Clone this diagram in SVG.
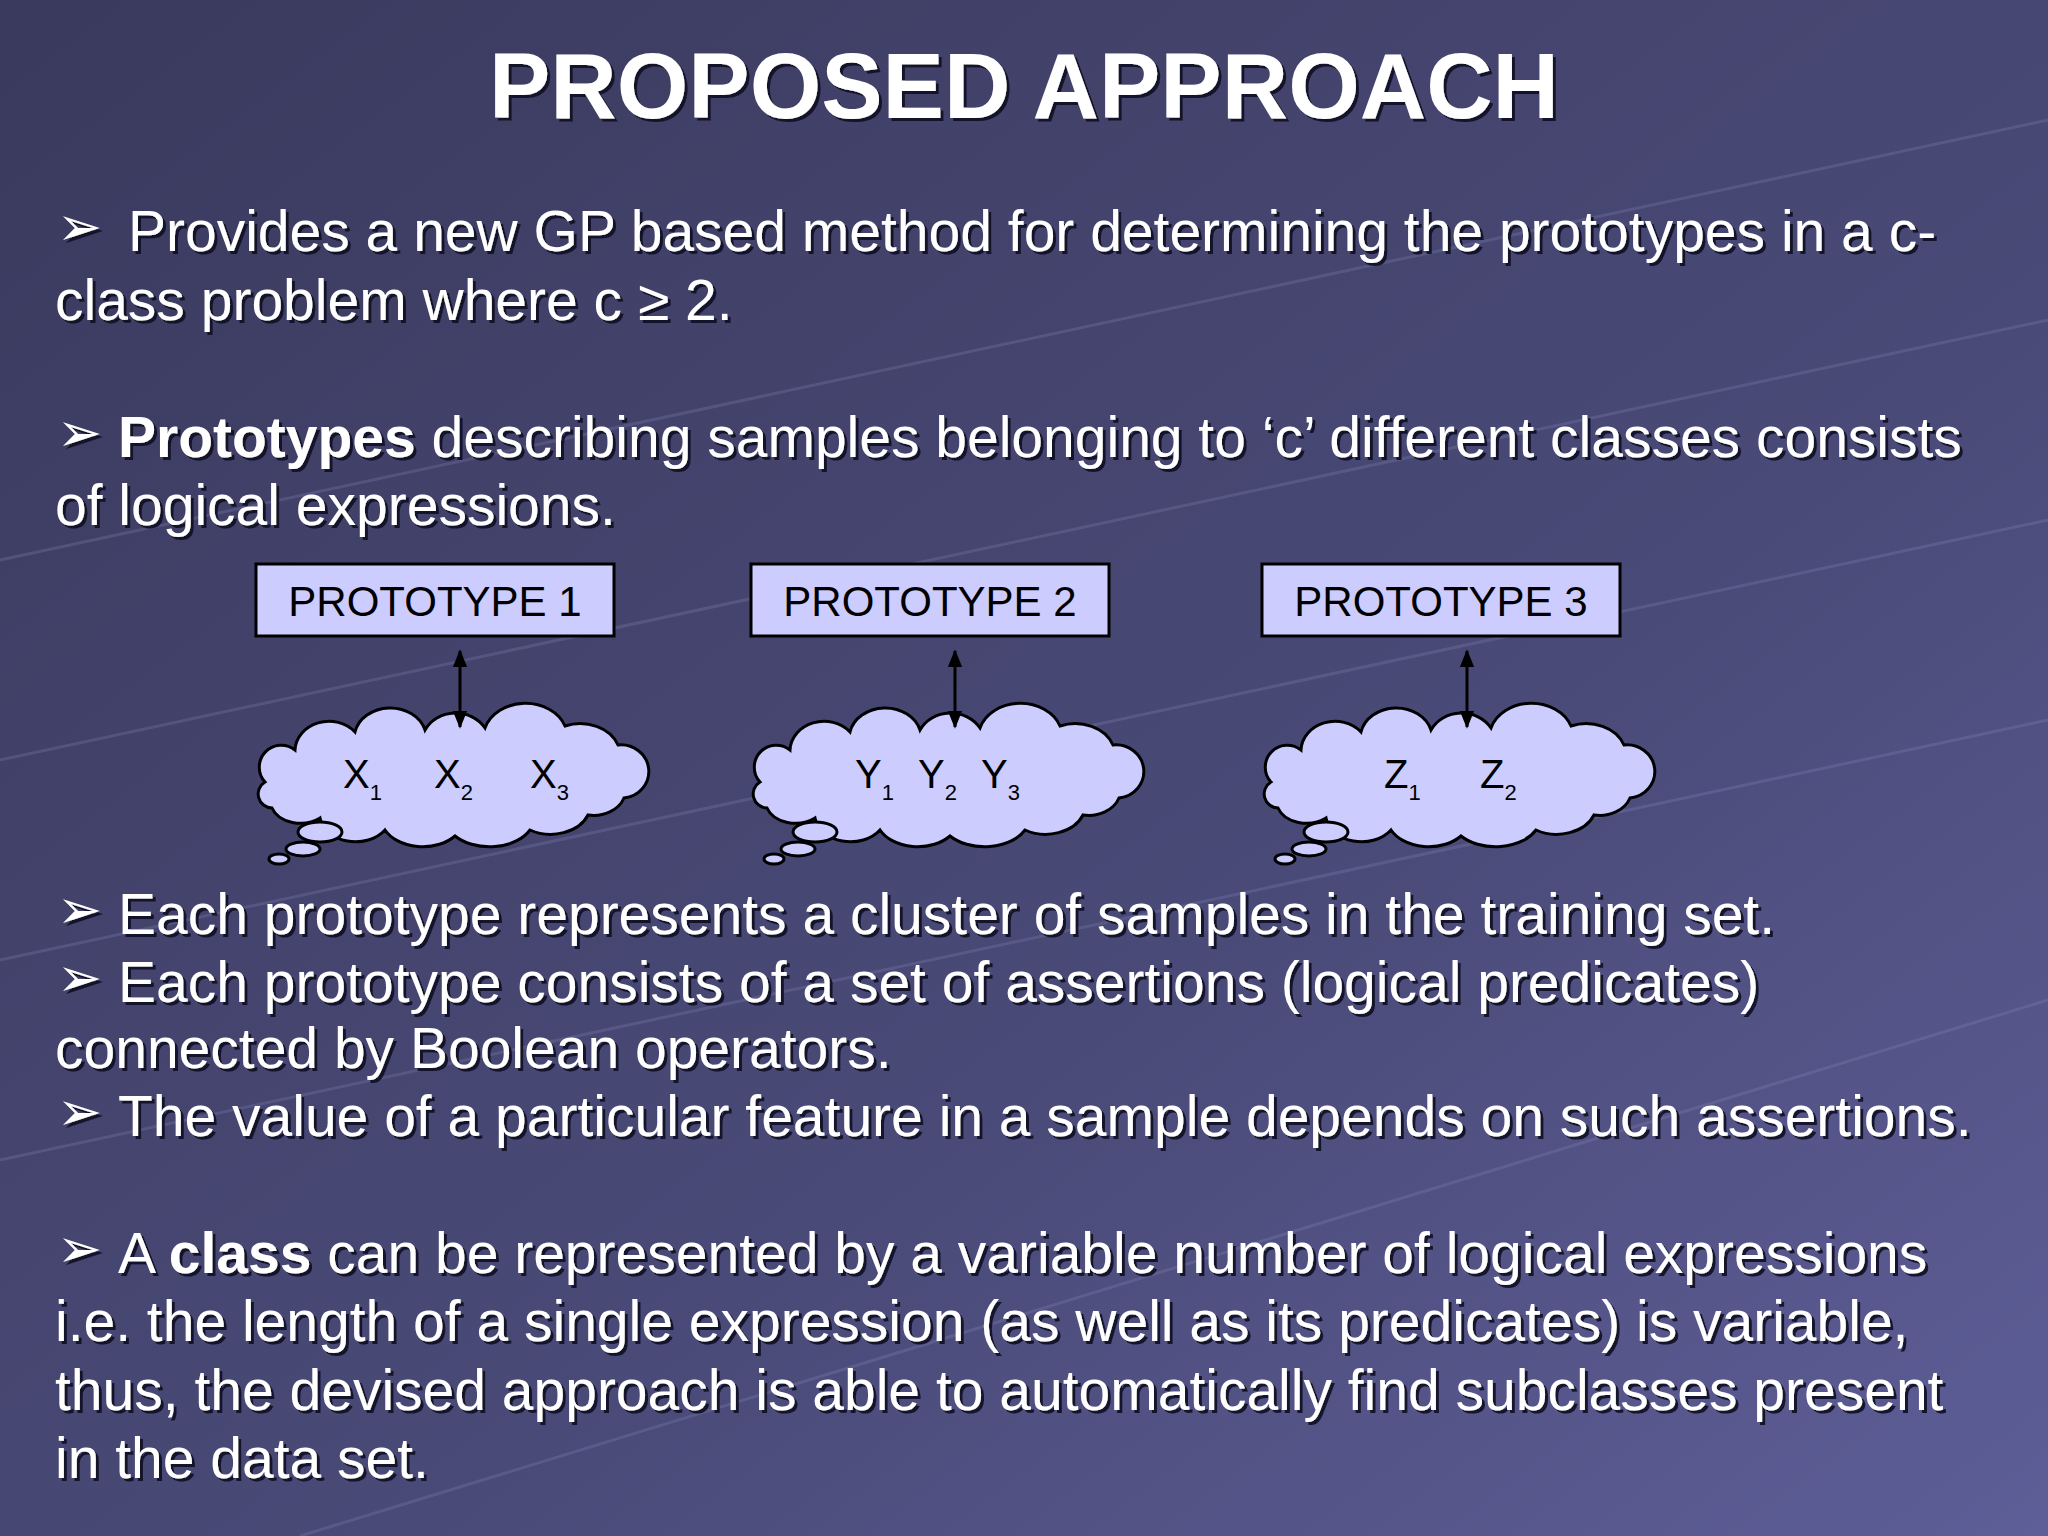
<svg xmlns="http://www.w3.org/2000/svg" width="2048" height="1536" viewBox="0 0 2048 1536">
<defs>
<linearGradient id="bg" x1="0" y1="0" x2="1" y2="1">
<stop offset="0" stop-color="#3a3a5e"/>
<stop offset="0.6" stop-color="#4a4a78"/>
<stop offset="1" stop-color="#5e5e98"/>
</linearGradient>
<filter id="sh" x="-5%" y="-20%" width="110%" height="140%">
<feDropShadow dx="3" dy="3" stdDeviation="0.5" flood-color="#111122" flood-opacity="0.9"/>
</filter>
<marker id="ah" viewBox="0 0 10 10" refX="9" refY="5" markerWidth="6" markerHeight="6" orient="auto-start-reverse">
<path d="M0,1 L10,5 L0,9 z" fill="#000"/>
</marker>
<g id="cloud">
<path d="M265,782 A22,22 0 0 1 295,750 A34,30 0 0 1 355,732 A36,30 0 0 1 425,730 A34,30 0 0 1 485,728 A42,34 0 0 1 565,726 A40,32 0 0 1 618,745 A24,23 0 0 1 624,798 A32,26 0 0 1 588,815 A40,30 0 0 1 530,830 A45,30 0 0 1 455,836 A42,30 0 0 1 385,830 A36,28 0 0 1 320,818 A30,22 0 0 1 272,808 A14,14 0 0 1 265,782 Z" fill="#ccccff" stroke="#000" stroke-width="3"/>
<ellipse cx="320" cy="832" rx="22" ry="10" fill="#ccccff" stroke="#000" stroke-width="3"/>
<ellipse cx="303" cy="849" rx="17" ry="7" fill="#ccccff" stroke="#000" stroke-width="3"/>
<ellipse cx="279" cy="859" rx="10" ry="5" fill="#ccccff" stroke="#000" stroke-width="3"/>
</g>
</defs>
<style>
.t{font-family:"Liberation Sans",Arial,sans-serif;font-size:57px;fill:#fff}
.b{font-family:"DejaVu Sans",sans-serif;font-size:54px;fill:#fff}
.box{fill:#ccccff;stroke:#000;stroke-width:3}
.bl{font-family:"Liberation Sans",Arial,sans-serif;font-size:42px;fill:#000;text-anchor:middle}
.v{font-family:"Liberation Sans",Arial,sans-serif;font-size:40px;fill:#000}
.s{font-size:22px}
.ar{stroke:#000;stroke-width:3;marker-start:url(#ah);marker-end:url(#ah)}
</style>
<rect width="2048" height="1536" fill="url(#bg)"/>
<g stroke="#8a8ac0" stroke-opacity="0.25" stroke-width="3" fill="none">
<path d="M0,560 L2048,120"/><path d="M0,760 L2048,320"/><path d="M0,960 L2048,520"/><path d="M0,1160 L2048,720"/><path d="M300,1536 L2048,1000"/>
</g>
<g id="title" filter="url(#sh)">
<text x="1024" y="118" text-anchor="middle" font-family="Liberation Sans,Arial,sans-serif" font-weight="bold" font-size="92" fill="#fff">PROPOSED APPROACH</text>
</g>
<g id="body" filter="url(#sh)">
<text class="b" x="57" y="245">➢</text>
<text class="t" x="128" y="251">Provides a new GP based method for determining the prototypes in a c-</text>
<text class="t" x="55" y="320">class problem where c ≥ 2.</text>
<text class="b" x="57" y="451">➢</text>
<text class="t" x="118" y="457"><tspan font-weight="bold">Prototypes</tspan> describing samples belonging to ‘c’ different classes consists</text>
<text class="t" x="55" y="525">of logical expressions.</text>
<text class="b" x="57" y="928">➢</text>
<text class="t" x="118" y="934">Each prototype represents a cluster of samples in the training set.</text>
<text class="b" x="57" y="996">➢</text>
<text class="t" x="118" y="1002">Each prototype consists of a set of assertions (logical predicates)</text>
<text class="t" x="55" y="1068">connected by Boolean operators.</text>
<text class="b" x="57" y="1130">➢</text>
<text class="t" x="118" y="1136">The value of a particular feature in a sample depends on such assertions.</text>
<text class="b" x="57" y="1267">➢</text>
<text class="t" x="118" y="1273">A <tspan font-weight="bold">class</tspan> can be represented by a variable number of logical expressions</text>
<text class="t" x="55" y="1341">i.e. the length of a single expression (as well as its predicates) is variable,</text>
<text class="t" x="55" y="1410">thus, the devised approach is able to automatically find subclasses present</text>
<text class="t" x="55" y="1478">in the data set.</text>
</g>
<g id="proto1"><rect class="box" x="256" y="564" width="358" height="72"/><text class="bl" x="435" y="616">PROTOTYPE 1</text></g>
<g id="proto2"><rect class="box" x="751" y="564" width="358" height="72"/><text class="bl" x="930" y="616">PROTOTYPE 2</text></g>
<g id="proto3"><rect class="box" x="1262" y="564" width="358" height="72"/><text class="bl" x="1441" y="616">PROTOTYPE 3</text></g>
<g id="cloud1"><use href="#cloud"/>
<text class="v" x="343" y="788">X<tspan class="s" dy="12">1</tspan></text>
<text class="v" x="434" y="788">X<tspan class="s" dy="12">2</tspan></text>
<text class="v" x="530" y="788">X<tspan class="s" dy="12">3</tspan></text></g>
<g id="cloud2"><use href="#cloud" x="495"/>
<text class="v" x="855" y="788">Y<tspan class="s" dy="12">1</tspan></text>
<text class="v" x="918" y="788">Y<tspan class="s" dy="12">2</tspan></text>
<text class="v" x="981" y="788">Y<tspan class="s" dy="12">3</tspan></text></g>
<g id="cloud3"><use href="#cloud" x="1006"/>
<text class="v" x="1384" y="788">Z<tspan class="s" dy="12">1</tspan></text>
<text class="v" x="1480" y="788">Z<tspan class="s" dy="12">2</tspan></text></g>
<g id="connectors">
<line class="ar" x1="460" y1="651" x2="460" y2="727"/>
<line class="ar" x1="955" y1="651" x2="955" y2="727"/>
<line class="ar" x1="1467" y1="651" x2="1467" y2="727"/>
</g>
</svg>
